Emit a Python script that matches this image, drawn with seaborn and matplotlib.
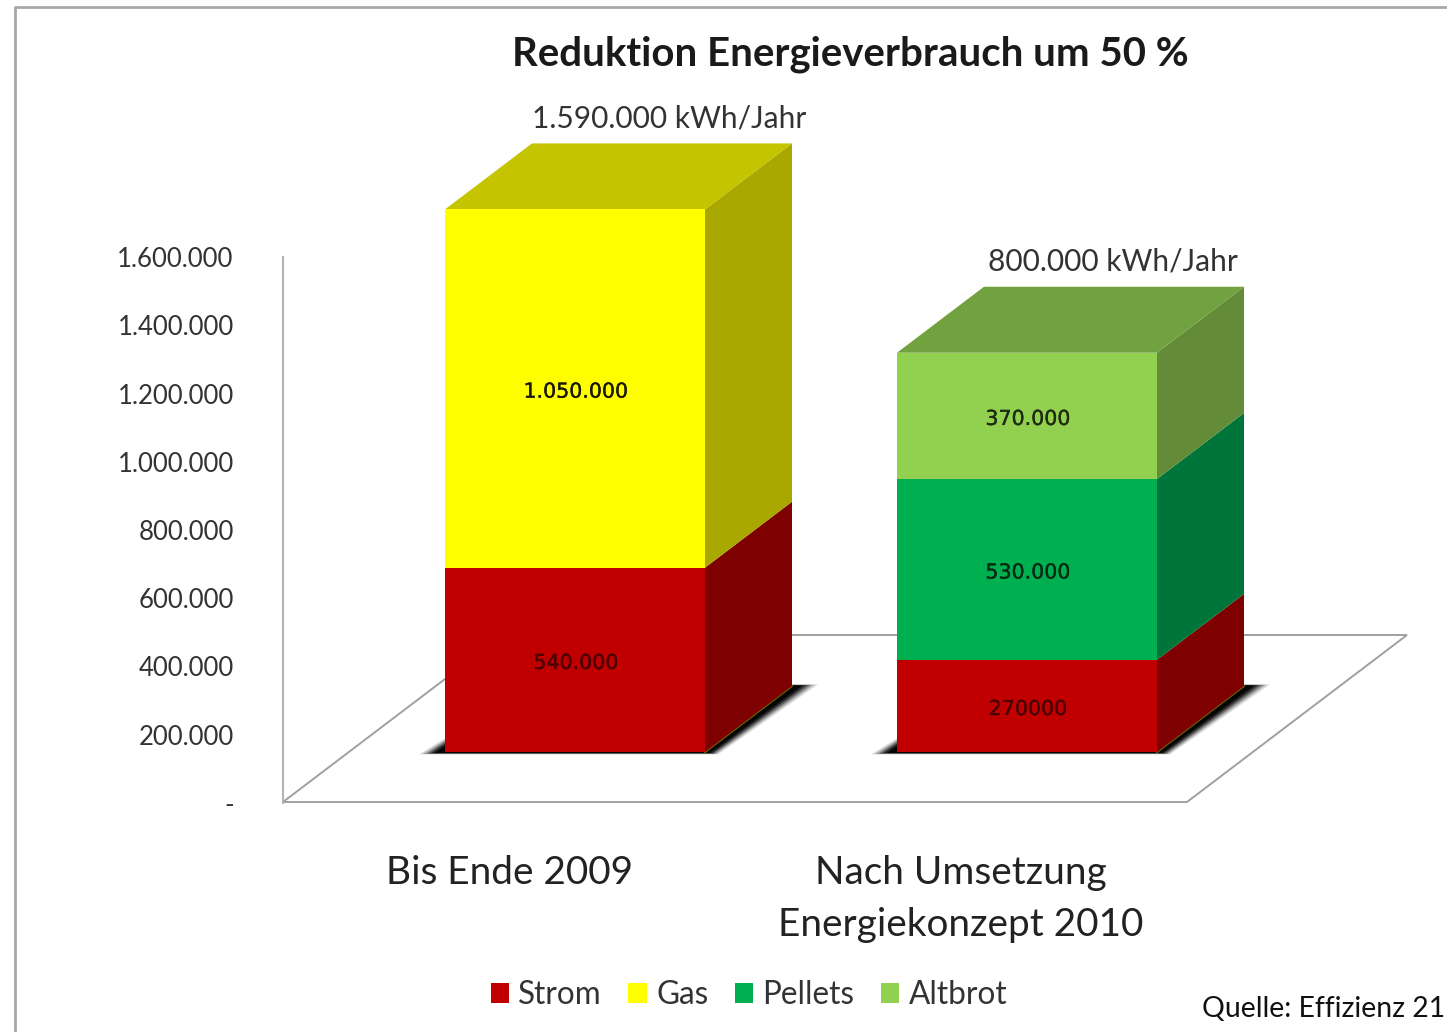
import matplotlib
matplotlib.use("Agg")
import matplotlib.pyplot as plt
from matplotlib.patches import Polygon
import matplotlib.patheffects as pe
import numpy as np
import seaborn as sns

# Werte
phasen = ["Bis Ende 2009", "Nach Umsetzung\nEnergiekonzept 2010"]
strom = [540000, 270000]
gas = [1050000, 0]
pellets = [0, 530000]
altbrot = [0, 370000]
segment_labels = [["540.000", "1.050.000", "", ""], ["270000", "", "530.000", "370.000"]]
total_labels = ["1.590.000 kWh/Jahr", "800.000 kWh/Jahr"]
y_ticks = [0, 200000, 400000, 600000, 800000, 1000000, 1200000, 1400000, 1600000]
y_ticklabels = ["-", "200.000", "400.000", "600.000", "800.000", "1.000.000", "1.200.000", "1.400.000", "1.600.000"]

names = ["Strom", "Gas", "Pellets", "Altbrot"]
front = ["#C00000", "#FFFF00", "#00B050", "#92D050"]
side = ["#7F0000", "#A8A800", "#00753A", "#648C38"]
top = ["#7F0000", "#C4C400", "#00753A", "#72A23F"]
label_col = ["#4A0000", "#1A1A00", "#062B14", "#1E2B10"]
total_shift = [5, -1]

W, H = 1447, 1032
sns.set_theme(style="white")
plt.rcParams['font.family'] = ['Lato', 'DejaVu Sans']

fig = plt.figure(figsize=(W / 100, H / 100), dpi=100)
fig.patch.set_facecolor("white")


def px_axes(left, right, ytop, ybottom):
    return fig.add_axes([left / W, 1 - ybottom / H, (right - left) / W, (ybottom - ytop) / H])


# Hintergrund in Pixeln: Rahmen, Boden
bg = fig.add_axes([0, 0, 1, 1], zorder=0)
bg.set_xlim(0, W)
bg.set_ylim(H, 0)
bg.axis("off")
bg.plot([14.5, 14.5, W], [H, 7, 7], color="#A8A8A8", lw=2, solid_joinstyle="round")
bg.add_patch(Polygon([(283, 802), (1187, 802), (1407, 635), (503, 635)], closed=True,
                     facecolor="white", edgecolor="#A0A0A0", lw=1.4))
bg.text(1445, 1009, "Quelle: Effizienz 21", ha="right", va="center", fontsize=20.4, color="#111111")
bg.text(850, 54, "Reduktion Energieverbrauch um 50 %", ha="center", va="center",
        fontsize=28.9, fontweight="bold", color="#1A1A1A")

# Achse vorne: Skala und Kategorien
ax = px_axes(283, 1187, 257, 803)
ax.set_zorder(1)
ax.patch.set_alpha(0)
ax.set_xlim(-0.5, 1.5)
ax.set_ylim(0, 1600000)
ax.set_yticks(y_ticks, y_ticklabels, fontsize=18.5, color="#333333")
ax.set_xticks([0, 1], phasen, fontsize=27.9, color="#222222", linespacing=1.56)
ax.tick_params(axis="y", length=0, pad=35.5)
ax.tick_params(axis="x", length=0, pad=37.2)
sns.despine(ax=ax, top=True, right=True, bottom=True)
ax.spines["left"].set_color("#B0B0B0")
ax.spines["left"].set_linewidth(1.4)

# Balken, nach hinten-oben versetzt wie im 3D-Diagramm
ax_bars = px_axes(349, 1253, 206, 752)
ax_bars.set_zorder(2)
ax_bars.patch.set_alpha(0)

depth_x = 87 / 452
depth_y = 66 / 546 * 1600000
bar_w = 260 / 452

series = [strom, gas, pellets, altbrot]
bottoms = np.zeros(len(phasen))
for s, values in enumerate(series):
    sns.barplot(x=phasen, y=values, bottom=bottoms, color=front[s], saturation=1, width=bar_w,
                label=names[s], ax=ax_bars, linewidth=0, clip_on=False, zorder=4)
    bottoms = bottoms + np.array(values)
handles, labels = ax_bars.get_legend_handles_labels()
if ax_bars.get_legend() is not None:
    ax_bars.get_legend().remove()
ax_bars.set_xlim(-0.5, 1.5)
ax_bars.set_ylim(0, 1600000)
ax_bars.axis("off")

for i in range(len(phasen)):
    x0 = i - bar_w / 2
    x1 = i + bar_w / 2
    # Schatten am Fuss
    for grow, alpha in [(1.0, 0.15), (0.85, 0.25), (0.7, 0.4), (0.55, 0.6), (0.4, 0.85)]:
        gx = grow * 26 / 452
        gy = grow * 8 / 546 * 1600000
        ax_bars.add_patch(Polygon([(x0 - gx, -gy * 0.3), (x1 + gx * 0.5, -gy * 0.3),
                                   (x1 + depth_x + gx * 1.0, depth_y + gy * 0.2),
                                   (x0 + depth_x, depth_y + gy * 0.2)],
                                  closed=True, facecolor="black", edgecolor="none",
                                  alpha=alpha, zorder=1, clip_on=False))
    ax_bars.plot([x1, x1 + depth_x], [0, depth_y], color="#6B6B00", lw=1.5, zorder=1.5, clip_on=False)
    bottom = 0
    last = 0
    for s, values in enumerate(series):
        v = values[i]
        if v == 0:
            continue
        ax_bars.add_patch(Polygon([(x1, bottom), (x1, bottom + v), (x1 + depth_x, bottom + v + depth_y),
                                   (x1 + depth_x, bottom + depth_y)],
                                  closed=True, facecolor=side[s], edgecolor="none", zorder=3, clip_on=False))
        ax_bars.annotate(segment_labels[i][s], (i, bottom + v / 2), xytext=(0.7, -2.2),
                         textcoords="offset points", ha="center", va="center", fontsize=14.8,
                         family="DejaVu Sans", color=label_col[s], zorder=5, annotation_clip=False,
                         path_effects=[pe.withStroke(linewidth=0.25, foreground=label_col[s])])
        bottom += v
        last = s
    ax_bars.add_patch(Polygon([(x0, bottom), (x1, bottom), (x1 + depth_x, bottom + depth_y),
                               (x0 + depth_x, bottom + depth_y)],
                              closed=True, facecolor=top[last], edgecolor="none", zorder=3, clip_on=False))
    ax_bars.annotate(total_labels[i], (i + depth_x, bottom + depth_y), xytext=(total_shift[i], 18),
                     textcoords="offset points", ha="center", va="center", fontsize=21.5,
                     color="#333333", annotation_clip=False)

fig.legend(handles, labels, loc="center", bbox_to_anchor=(749 / W, 1 - 995 / H), ncol=4, frameon=False,
           fontsize=22.7, handlelength=0.58, handleheight=0.58, handletextpad=0.3, columnspacing=0.84,
           labelcolor="#333333")

fig.savefig("out.png", dpi=100)
